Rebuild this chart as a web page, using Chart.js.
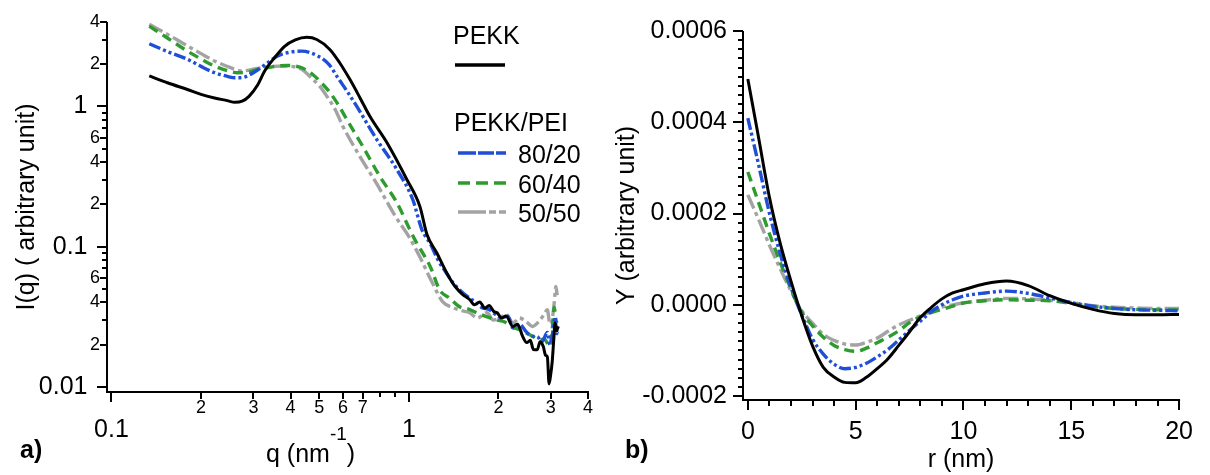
<!DOCTYPE html>
<html><head><meta charset="utf-8">
<script src="https://cdn.jsdelivr.net/npm/chart.js@4.4.0/dist/chart.umd.min.js"></script>
<style>
html,body{margin:0;padding:0;background:#fff}
body{width:1210px;height:475px;overflow:hidden;position:relative;font-family:"Liberation Sans",Arial,sans-serif;color:#000}
.pane{position:absolute;top:0;width:605px;height:475px}
.t{position:absolute;font-size:25px;line-height:25px;white-space:nowrap}
.b{font-weight:bold}
</style></head><body>
<div class="pane" style="left:0"><canvas id="ca" width="605" height="475"></canvas></div>
<div class="pane" style="left:605px"><canvas id="cb" width="605" height="475"></canvas></div>
<svg style="position:absolute;left:0;top:0" width="1210" height="475">
<line x1="455" y1="65" x2="505" y2="65" stroke="#000" stroke-width="3.5"/>
<line x1="458" y1="153" x2="506" y2="153" stroke="#1f4fd6" stroke-width="3.5" stroke-dasharray="18,2,16,2,10"/>
<line x1="458" y1="183" x2="506" y2="183" stroke="#2e9b2e" stroke-width="3.5" stroke-dasharray="12,6"/>
<line x1="458" y1="212" x2="507" y2="212" stroke="#a3a3a3" stroke-width="3.5" stroke-dasharray="28,3,7,3,7"/>
</svg>
<div class="t" style="left:453px;top:23px">PEKK</div>
<div class="t" style="left:454px;top:110px">PEKK/PEI</div>
<div class="t" style="left:518px;top:142px">80/20</div>
<div class="t" style="left:518px;top:172px">60/40</div>
<div class="t" style="left:518px;top:201px">50/50</div>
<div class="t" style="left:266px;top:441px">q (nm<span style="font-size:19px;line-height:19px;position:relative;top:-22px">-1</span>)</div>
<div class="t b" style="left:20px;top:437px">a)</div>
<div class="t b" style="left:625px;top:437px">b)</div>
<script>
// ---------- panel a) : I(q) vs q (log-log) ----------
const qPEKK = [0.134,0.155,0.18,0.20,0.222,0.245,0.26,0.275,0.29,0.31,0.327,0.355,0.382,0.415,0.454,0.49,0.542,0.585,0.633,0.685,0.739,0.843,0.985,1.089,1.15,1.24,1.34,1.43,1.52,1.6,1.66,1.73,1.8,1.86,1.93,1.98,2.05,2.12,2.24,2.32,2.41,2.49,2.56,2.62,2.70,2.76,2.83,2.88,2.92,2.96,3.0,3.03,3.07,3.10,3.14,3.17];
const iPEKK = [1.65,1.47,1.32,1.22,1.15,1.10,1.07,1.09,1.18,1.42,1.78,2.25,2.68,2.98,3.11,3.0,2.55,2.05,1.56,1.15,0.85,0.553,0.30,0.193,0.122,0.0906,0.065,0.052,0.0454,0.042,0.0385,0.0404,0.0365,0.038,0.0345,0.0338,0.031,0.032,0.027,0.028,0.023,0.0207,0.0215,0.0185,0.0184,0.021,0.0194,0.0168,0.0164,0.0105,0.0125,0.0149,0.022,0.0286,0.025,0.027];
const q8020 = [0.134,0.155,0.18,0.20,0.222,0.245,0.26,0.28,0.30,0.33,0.362,0.40,0.436,0.494,0.54,0.577,0.62,0.668,0.78,0.911,1.03,1.106,1.18,1.25,1.33,1.41,1.5,1.60,1.68,1.75,1.87,1.95,2.05,2.15,2.24,2.35,2.49,2.60,2.70,2.80,2.92,2.98,3.03,3.07,3.10,3.14,3.17];
const i8020 = [2.80,2.45,2.17,1.93,1.74,1.64,1.60,1.62,1.74,2.0,2.29,2.44,2.48,2.29,1.98,1.60,1.28,1.0,0.58,0.355,0.217,0.132,0.105,0.081,0.066,0.055,0.048,0.043,0.040,0.037,0.0355,0.033,0.031,0.032,0.0263,0.028,0.0245,0.023,0.0228,0.021,0.0245,0.020,0.0228,0.028,0.0316,0.024,0.027];
const q6040 = [0.134,0.155,0.18,0.20,0.222,0.245,0.266,0.29,0.31,0.34,0.362,0.39,0.414,0.44,0.475,0.51,0.542,0.58,0.618,0.70,0.799,0.911,1.008,1.06,1.12,1.18,1.27,1.37,1.48,1.58,1.69,1.8,1.98,2.1,2.2,2.36,2.5,2.6,2.76,2.85,2.98,3.03,3.08,3.12,3.15];
const i6040 = [3.74,3.05,2.48,2.18,1.94,1.80,1.74,1.76,1.84,1.90,1.94,1.96,1.94,1.87,1.69,1.46,1.26,1.02,0.808,0.518,0.316,0.206,0.132,0.107,0.088,0.072,0.049,0.043,0.0373,0.036,0.0338,0.032,0.030,0.029,0.027,0.0256,0.024,0.023,0.0217,0.022,0.0194,0.025,0.037,0.03,0.0286];
const q5050 = [0.134,0.155,0.18,0.20,0.222,0.25,0.274,0.30,0.32,0.35,0.38,0.414,0.44,0.464,0.50,0.53,0.565,0.60,0.684,0.78,0.90,1.0,1.09,1.20,1.30,1.41,1.5,1.60,1.7,1.83,1.92,2.02,2.12,2.24,2.35,2.49,2.6,2.76,2.85,2.92,2.98,3.03,3.08,3.12,3.15];
const i5050 = [3.85,3.25,2.70,2.38,2.11,1.90,1.79,1.84,1.89,1.93,1.94,1.91,1.82,1.64,1.40,1.18,0.95,0.72,0.44,0.28,0.165,0.118,0.084,0.055,0.0404,0.0367,0.035,0.0338,0.031,0.0338,0.030,0.031,0.033,0.0286,0.031,0.029,0.027,0.030,0.033,0.0355,0.028,0.030,0.040,0.052,0.045];
const qTickValues = [0.1,0.2,0.3,0.4,0.5,0.6,0.7,0.8,0.9,1,2,3,4];
const qTickLabels = [['','0.1'],'2','3','4','5','6','7','','',['','1'],'2','3','4'];
const iTickValues = [0.01,0.02,0.03,0.04,0.05,0.06,0.07,0.08,0.09,0.1,0.2,0.3,0.4,0.5,0.6,0.7,0.8,0.9,1,2,3,4];
const iTickLabels = ['0.01','2','','4','','6','','','','0.1','2','','4','','6','','','','1','2','','4'];
const iMajor = [0.01,0.1,1];

// ---------- panel b) : Y vs r ----------
const rValues = [0,0.5,1,1.5,2,2.5,3,3.5,4,4.5,5,5.5,6,6.5,7,7.5,8,8.5,9,9.5,10,11,12,13,14,15,16,17,18,19,20];
const yPEKK = [4.95e-4,3.66e-4,2.36e-4,1.35e-4,0.52e-4,-0.24e-4,-0.90e-4,-1.37e-4,-1.58e-4,-1.70e-4,-1.71e-4,-1.59e-4,-1.40e-4,-1.18e-4,-0.89e-4,-0.59e-4,-0.28e-4,-0.06e-4,0.13e-4,0.26e-4,0.33e-4,0.46e-4,0.52e-4,0.42e-4,0.20e-4,0.03e-4,-0.10e-4,-0.19e-4,-0.22e-4,-0.22e-4,-0.21e-4];
const y8020 = [4.09e-4,3.07e-4,2.01e-4,1.12e-4,0.38e-4,-0.22e-4,-0.75e-4,-1.08e-4,-1.30e-4,-1.40e-4,-1.37e-4,-1.28e-4,-1.14e-4,-0.98e-4,-0.77e-4,-0.56e-4,-0.36e-4,-0.15e-4,0.0,0.11e-4,0.19e-4,0.26e-4,0.30e-4,0.25e-4,0.15e-4,0.05e-4,-0.03e-4,-0.08e-4,-0.11e-4,-0.12e-4,-0.13e-4];
const y6040 = [2.91e-4,2.24e-4,1.56e-4,0.93e-4,0.35e-4,-0.16e-4,-0.46e-4,-0.71e-4,-0.89e-4,-0.98e-4,-1.02e-4,-0.95e-4,-0.83e-4,-0.71e-4,-0.57e-4,-0.39e-4,-0.26e-4,-0.17e-4,-0.10e-4,-0.03e-4,0.04e-4,0.09e-4,0.11e-4,0.10e-4,0.09e-4,0.03e-4,-0.04e-4,-0.08e-4,-0.10e-4,-0.11e-4,-0.11e-4];
const y5050 = [2.41e-4,1.87e-4,1.31e-4,0.79e-4,0.30e-4,-0.13e-4,-0.40e-4,-0.65e-4,-0.78e-4,-0.86e-4,-0.88e-4,-0.82e-4,-0.73e-4,-0.58e-4,-0.44e-4,-0.34e-4,-0.24e-4,-0.15e-4,-0.05e-4,0.0,0.04e-4,0.10e-4,0.14e-4,0.13e-4,0.10e-4,0.05e-4,-0.02e-4,-0.05e-4,-0.07e-4,-0.08e-4,-0.08e-4];
const rMajorTicks = [0,5,10,15,20];
const yMajorTicks = [-0.0002,0,0.0002,0.0004,0.0006];
const yMajorLabels = ['-0.0002','0.0000','0.0002','0.0004','0.0006'];

// ---------- styles ----------
const FAMILY = '"Liberation Sans", Arial, sans-serif';
Chart.defaults.font.family = FAMILY;
Chart.defaults.color = '#000';
const COLORS = {pekk:'#000000', b8020:'#1f4fd6', b6040:'#2e9b2e', b5050:'#a3a3a3'};
const DASH = {pekk:[], b8020:[12,3,3,3,3,3], b6040:[10,6], b5050:[15,4,4,4]};

const pts = (xs, ys) => xs.map((x, i) => ({x: x, y: ys[i]}));
function ds(label, xs, ys, key) {
  return {label, data: pts(xs, ys), showLine: true, borderColor: COLORS[key], backgroundColor: COLORS[key],
    borderWidth: key === 'pekk' ? 3 : 3.4, borderDash: DASH[key], pointRadius: 0,
    cubicInterpolationMode: 'monotone', fill: false};
}

const axisPlugin = {
  id: 'axisTicks',
  afterDraw(chart) {
    const ctx = chart.ctx, ca = chart.chartArea;
    const xs = chart.scales.x, ys = chart.scales.y;
    ctx.save();
    ctx.strokeStyle = '#000';
    ctx.lineWidth = 2;
    ctx.beginPath();
    ctx.moveTo(ca.left, ca.top); ctx.lineTo(ca.left, ca.bottom + 1);
    ctx.moveTo(ca.left - 1, ca.bottom); ctx.lineTo(ca.right + 1, ca.bottom);
    xs.ticks.forEach(t => { const p = Math.round(xs.getPixelForValue(t.value)); ctx.moveTo(p, ca.bottom); ctx.lineTo(p, ca.bottom + t.len); });
    ys.ticks.forEach(t => { const p = Math.round(ys.getPixelForValue(t.value)); ctx.moveTo(ca.left, p); ctx.lineTo(ca.left - t.len, p); });
    ctx.stroke();
    ctx.restore();
  }
};

const lenFor = lab => Array.isArray(lab) ? 10 : (lab ? 7 : 5);

// ---------- chart a ----------
new Chart(document.getElementById('ca'), {
  type: 'scatter',
  data: {datasets: [
    ds('PEKK', qPEKK, iPEKK, 'pekk'),
    ds('80/20', q8020, i8020, 'b8020'),
    ds('60/40', q6040, i6040, 'b6040'),
    ds('50/50', q5050, i5050, 'b5050')
  ]},
  options: {
    responsive: false, animation: false,
    layout: {padding: {left: 0, right: 17, top: 22, bottom: 0}},
    plugins: {legend: {display: false}, tooltip: {enabled: false}},
    scales: {
      x: {
        type: 'logarithmic', min: 0.0966, max: 4,
        grid: {display: false, drawTicks: false}, border: {display: false},
        title: {display: false},
        afterBuildTicks: s => { s.ticks = qTickValues.map((v, i) => ({value: v, len: lenFor(qTickLabels[i])})); },
        afterFit: s => { s.height = 83; },
        ticks: {
          autoSkip: false, maxRotation: 0, minRotation: 0, padding: 5, color: '#000',
          callback: (v, i) => qTickLabels[i],
          font: c => Array.isArray(qTickLabels[c.index]) ? {size: 25, lineHeight: 0.88, family: FAMILY} : {size: 18, family: FAMILY}
        }
      },
      y: {
        type: 'logarithmic', min: 0.0092, max: 4,
        grid: {display: false, drawTicks: false}, border: {display: false},
        title: {display: true, text: 'I(q) ( arbitrary unit)', font: {size: 25, family: FAMILY}, color: '#000', padding: {top: 12, bottom: 0}},
        afterBuildTicks: s => { s.ticks = iTickValues.map((v, i) => ({value: v, len: iMajor.includes(v) ? 10 : (iTickLabels[i] ? 7 : 5)})); },
        afterFit: s => { s.width = 107; },
        ticks: {
          autoSkip: false, padding: 7, color: '#000',
          callback: (v, i) => iMajor.includes(iTickValues[i]) ? iTickLabels[i] + '\u2002' : iTickLabels[i],
          font: c => iMajor.includes(iTickValues[c.index]) ? {size: 25, family: FAMILY} : {size: 18, family: FAMILY}
        }
      }
    }
  },
  plugins: [axisPlugin]
});

// ---------- chart b ----------
new Chart(document.getElementById('cb'), {
  type: 'scatter',
  data: {datasets: [
    ds('PEKK', rValues, yPEKK, 'pekk'),
    ds('80/20', rValues, y8020, 'b8020'),
    ds('60/40', rValues, y6040, 'b6040'),
    ds('50/50', rValues, y5050, 'b5050')
  ]},
  options: {
    responsive: false, animation: false,
    layout: {padding: {left: 0, right: 17, top: 24, bottom: 0}},
    plugins: {legend: {display: false}, tooltip: {enabled: false}},
    scales: {
      x: {
        type: 'linear', min: -0.224, max: 20,
        grid: {display: false, drawTicks: false}, border: {display: false},
        title: {display: true, text: 'r (nm)', font: {size: 25, family: FAMILY}, color: '#000', padding: {top: 0, bottom: 0}},
        afterBuildTicks: s => { const t = []; for (let i = 0; i <= 20; i++) t.push({value: i, len: rMajorTicks.includes(i) ? 10 : 6}); s.ticks = t; },
        afterFit: s => { s.height = 75; },
        ticks: {
          autoSkip: false, maxRotation: 0, minRotation: 0, padding: 17, color: '#000',
          callback: v => rMajorTicks.includes(v) ? String(v) : '',
          font: {size: 25, family: FAMILY}
        }
      },
      y: {
        type: 'linear', min: -0.0002086, max: 0.0006,
        grid: {display: false, drawTicks: false}, border: {display: false},
        title: {display: true, text: 'Y (arbitrary unit)', font: {size: 25, family: FAMILY}, color: '#000', padding: {top: 7, bottom: 0}},
        afterBuildTicks: s => {
          const t = [];
          for (let i = -10; i <= 30; i++) t.push({value: i * 2e-5, len: i % 10 === 0 ? 10 : 5, mi: i % 10 === 0 ? (i / 10 + 1) : -1});
          s.ticks = t;
        },
        afterFit: s => { s.width = 138; },
        ticks: {
          autoSkip: false, padding: 16, color: '#000',
          callback: (v, i, ticks) => ticks[i].mi >= 0 ? yMajorLabels[ticks[i].mi] : '',
          font: {size: 25, family: FAMILY}
        }
      }
    }
  },
  plugins: [axisPlugin]
});
</script>
</body></html>
